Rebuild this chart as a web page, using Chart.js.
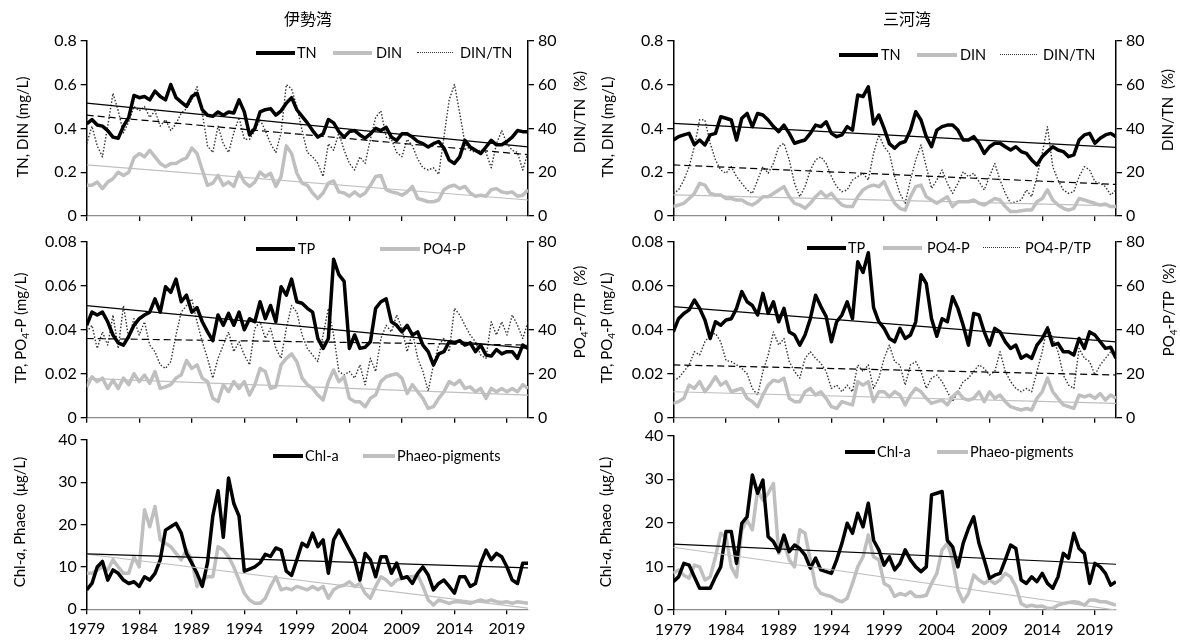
<!DOCTYPE html>
<html><head><meta charset="utf-8">
<script src="https://cdn.jsdelivr.net/npm/chart.js@4.4.1/dist/chart.umd.min.js"></script>
<style>
html,body{margin:0;padding:0;background:#fff;}
#root{position:relative;width:1180px;height:644px;overflow:hidden;font-family:Lato,"Open Sans",sans-serif;color:#000;}
canvas{position:absolute;}
.ttl{position:absolute;font-family:"Noto Sans CJK JP",sans-serif;font-size:16px;transform:translate(-50%,-50%);white-space:nowrap;}
.ax{position:absolute;font-size:15px;white-space:nowrap;transform:translate(-50%,-50%) rotate(-90deg);line-height:1;}
.ax sub{font-size:10px;vertical-align:-3px;line-height:0;}
.lg{position:absolute;font-size:14.5px;white-space:nowrap;transform:translateY(-50%);line-height:1;}
.sw{position:absolute;height:0;}
</style></head>
<body><div id="root"></div>
<script>
// ---- categories / ticks ----
const halfYears = Array.from({length: 85}, (_, i) => 1979 + i * 0.5);
const trendYears = [1979, 2021];
const yearTicks = [1979, 1984, 1989, 1994, 1999, 2004, 2009, 2014, 2019];
const tnTicks = [0, 0.2, 0.4, 0.6, 0.8];
const tpTicks = [0, 0.02, 0.04, 0.06, 0.08];
const pctTicks = [0, 20, 40, 60, 80];
const chlTicks = [0, 10, 20, 30, 40];

// ---- 伊勢湾 ----
const iseTN = [0.42,0.44,0.415,0.41,0.39,0.36,0.355,0.41,0.45,0.55,0.54,0.545,0.53,0.57,0.545,0.53,0.60,0.54,0.52,0.50,
0.545,0.56,0.485,0.46,0.455,0.475,0.46,0.475,0.47,0.53,0.475,0.37,0.40,0.475,0.485,0.49,0.46,0.48,0.515,0.54,
0.485,0.455,0.425,0.39,0.36,0.375,0.44,0.425,0.385,0.36,0.385,0.39,0.37,0.355,0.375,0.40,0.39,0.405,0.36,0.345,
0.375,0.375,0.36,0.34,0.33,0.315,0.33,0.34,0.31,0.255,0.24,0.27,0.345,0.315,0.30,0.285,0.315,0.345,0.325,0.325,
0.34,0.36,0.39,0.385,0.385];
const iseDIN = [0.14,0.14,0.155,0.125,0.155,0.17,0.20,0.185,0.20,0.265,0.285,0.27,0.30,0.27,0.24,0.225,0.24,0.24,0.255,0.265,
0.31,0.285,0.21,0.14,0.15,0.185,0.14,0.155,0.135,0.20,0.155,0.135,0.155,0.20,0.18,0.195,0.135,0.18,0.32,0.285,
0.195,0.15,0.14,0.105,0.08,0.105,0.15,0.16,0.11,0.105,0.09,0.11,0.09,0.105,0.14,0.18,0.185,0.12,0.11,0.105,
0.095,0.11,0.135,0.08,0.073,0.065,0.065,0.073,0.12,0.135,0.14,0.125,0.135,0.105,0.09,0.095,0.09,0.12,0.125,0.11,
0.105,0.11,0.09,0.095,0.12];
const iseDINTN = [33,41,32,27,41,56,48,38,43,50,48,50,45,48,41,44,39,42,47,49,
53,59,47,32,29,41,33,29,38,45,35,35,39,44,39,33,29,38,60,58,
50,39,29,27,24,18,33,30,38,30,24,21,27,24,35,45,48,36,35,29,
27,35,32,26,22,21,22,19,36,53,60,47,33,30,29,30,29,22,33,39,
33,30,29,21,29];
const iseTP = [0.042,0.048,0.0467,0.048,0.0436,0.0376,0.034,0.033,0.037,0.042,0.045,0.0467,0.048,0.054,0.048,0.0595,0.057,0.063,0.0527,0.0557,
0.048,0.050,0.0436,0.039,0.035,0.0467,0.042,0.0474,0.042,0.048,0.040,0.045,0.0436,0.0527,0.045,0.051,0.0436,0.0595,0.0557,0.063,
0.0527,0.052,0.0497,0.048,0.036,0.0315,0.036,0.072,0.065,0.062,0.0315,0.0376,0.0315,0.032,0.0345,0.0497,0.0527,0.054,0.0436,0.042,
0.039,0.042,0.0376,0.039,0.033,0.030,0.024,0.029,0.030,0.0345,0.034,0.035,0.033,0.034,0.030,0.033,0.0285,0.028,0.031,0.029,
0.030,0.030,0.027,0.033,0.0315];
const isePO4 = [0.014,0.0186,0.0164,0.018,0.0133,0.017,0.0133,0.018,0.015,0.020,0.0164,0.0194,0.0156,0.021,0.0133,0.014,0.015,0.018,0.0194,0.026,
0.0224,0.024,0.018,0.0164,0.0088,0.0073,0.015,0.0118,0.0164,0.0133,0.0164,0.0103,0.015,0.0224,0.021,0.0133,0.014,0.024,0.027,0.029,
0.0254,0.018,0.015,0.0133,0.0103,0.008,0.0164,0.0217,0.0164,0.0186,0.0088,0.0073,0.0073,0.005,0.0088,0.0103,0.0164,0.0186,0.0194,0.020,
0.018,0.011,0.015,0.0118,0.0088,0.0042,0.005,0.0088,0.0118,0.0164,0.015,0.017,0.0133,0.014,0.0118,0.0133,0.0088,0.0133,0.0118,0.0133,
0.0118,0.0133,0.0118,0.015,0.0133];
const isePO4TP = [39,42,31.5,39,33,46.7,31.5,51,36,45,37.6,43.6,33,30,24,22.4,25.5,37.6,48,51,
54,43.6,34.5,27,18,27,33,39,30,34.5,28.5,24,40.6,43.6,36,40.6,31.5,27,40.6,51,
48,37.6,31.5,28.5,25.5,37.6,49.7,37.6,21,19.4,21,18,24,15,27,21,36,42,39,46.7,
40.6,30,39,27,21,12,24,33,36,30,49.7,46.7,42,37.6,34.5,28.5,27,43.6,37.6,43.6,
37.6,46.7,42,36,43.6];
const iseChl = [4.6,6.1,10,11.3,6.9,9.3,8.5,6.9,6.1,6.5,5.4,7.7,6.9,8.5,11.7,18.7,19.5,20.3,18,13.2,
10.9,8.5,5.4,11,22,28,17,31,25,22,9,9.5,10,11,13,12.5,14.5,14,9,8,
11.7,15.6,14.8,18,14.8,16.4,8.5,16.4,18.7,16.4,14,11.7,6.9,13.2,11.7,7.7,12.4,12.4,8.5,10.9,
7.3,7.7,6.1,8.5,10,8.1,4.6,6.1,6.9,5.4,3.8,7.7,7.7,5.4,6.1,10.9,14,11.7,13.2,12.4,
10,6.9,6.1,10.9,10.9];
const isePhaeo = [8.5,8.5,9.3,10,9.3,11.7,10,8.5,8.5,12.4,10,23.5,19.5,24.3,16.4,15.6,14.8,13.2,11.7,14,
11.7,5.4,6.9,7.7,7.7,14.8,14,12.4,10,6.9,3.8,2.2,1.4,1.4,2.6,5.4,7.7,4.6,5,4.6,
5.4,5,4.6,5.4,4.6,5.4,2.6,4.6,5.4,5.7,6.5,5.4,6.1,3.8,2.6,5.4,7.7,6.9,5.7,6.9,
7.3,7.7,7.7,8.1,5.4,2.2,1,2.2,1.8,1.4,1.8,1.8,1.6,1.4,1.8,2.2,1.8,2.2,1.8,1.6,
1.8,1.4,1.8,1.6,1.4];
const iseTNTrend = [0.515, 0.315];
const iseDINTrend = [0.233, 0.073];
const iseDINTNTrend = [46, 28];
const iseTPTrend = [0.0509, 0.0315];
const isePO4Trend = [0.0179, 0.0103];
const isePO4TPTrend = [36, 33];
const iseChlTrend = [13.1, 9.8];
const isePhaeoTrend = [13, 0.3];

// ---- 三河湾 ----
const mikTN = [0.347,0.362,0.37,0.377,0.325,0.347,0.324,0.37,0.377,0.453,0.446,0.438,0.347,0.446,0.468,0.408,0.468,0.461,0.438,0.408,
0.385,0.415,0.377,0.332,0.34,0.347,0.377,0.415,0.408,0.43,0.377,0.362,0.37,0.408,0.392,0.552,0.545,0.59,0.42,0.461,
0.40,0.33,0.309,0.332,0.34,0.392,0.476,0.438,0.362,0.316,0.392,0.408,0.415,0.415,0.392,0.347,0.347,0.362,0.332,0.286,
0.316,0.332,0.332,0.316,0.301,0.316,0.294,0.286,0.256,0.233,0.271,0.294,0.316,0.301,0.294,0.271,0.279,0.347,0.37,0.377,
0.332,0.355,0.37,0.377,0.362];
const mikDIN = [0.043,0.05,0.058,0.08,0.103,0.149,0.141,0.103,0.096,0.096,0.08,0.08,0.073,0.073,0.058,0.05,0.065,0.088,0.088,0.103,
0.119,0.134,0.088,0.058,0.05,0.035,0.058,0.088,0.111,0.088,0.103,0.073,0.05,0.043,0.043,0.088,0.119,0.134,0.141,0.134,
0.157,0.103,0.058,0.035,0.027,0.088,0.134,0.141,0.088,0.073,0.058,0.073,0.088,0.043,0.065,0.065,0.065,0.073,0.058,0.05,
0.065,0.08,0.073,0.043,0.02,0.02,0.024,0.027,0.027,0.065,0.08,0.119,0.073,0.05,0.035,0.027,0.035,0.08,0.073,0.065,
0.058,0.05,0.055,0.043,0.043];
const mikDINTN = [10.3,11.9,16.4,22.5,31.6,44,43.8,33.2,25.6,21,19.5,22.5,18,14.9,11.9,10.3,16.4,22.5,19.5,24,
31.6,33.2,25.6,14.9,8.8,13.4,21,25.6,27,24,18,13.4,11.1,11.9,16.4,18,19.5,16.4,28.6,37,
31.6,28.6,18,10.3,5.8,16.4,25.6,32.4,22.5,12.6,16.4,21,14.9,10.3,14.9,20.2,18,19.5,15.7,11.9,
18,24,16.4,10.3,5.8,6.5,7.3,11.9,8.8,18,28.6,40.8,22.5,16.4,11.9,10.3,11.1,18,22.5,21,
15.7,14.9,13.4,9.6,11.9];
const mikTP = [0.039,0.045,0.0474,0.049,0.0535,0.0497,0.0444,0.036,0.0436,0.042,0.0444,0.045,0.0497,0.0573,0.0527,0.051,0.0467,0.0565,0.0474,0.0527,
0.0436,0.0497,0.039,0.0376,0.033,0.0376,0.045,0.0557,0.0505,0.046,0.0345,0.0436,0.0467,0.0527,0.045,0.0709,0.066,0.075,0.050,0.0436,
0.0406,0.036,0.0345,0.0406,0.036,0.0376,0.0436,0.065,0.061,0.045,0.037,0.045,0.0436,0.055,0.0497,0.042,0.033,0.0474,0.0467,0.039,
0.033,0.0406,0.039,0.0345,0.0315,0.033,0.027,0.0285,0.027,0.033,0.036,0.0406,0.033,0.0338,0.030,0.030,0.0285,0.036,0.0315,0.039,
0.0376,0.0345,0.0315,0.032,0.027];
const mikPO4 = [0.0065,0.0073,0.0088,0.0148,0.0133,0.0164,0.0118,0.0148,0.0186,0.0148,0.0164,0.0118,0.0126,0.0133,0.0088,0.0073,0.005,0.0103,0.0148,0.017,
0.0164,0.018,0.0088,0.0073,0.0073,0.0118,0.0133,0.0103,0.0118,0.0088,0.005,0.0042,0.0073,0.0065,0.0058,0.0164,0.0148,0.0164,0.0073,0.0118,
0.0118,0.0095,0.0118,0.0103,0.0058,0.0103,0.0133,0.0118,0.0088,0.0065,0.0073,0.008,0.0058,0.0095,0.0118,0.0088,0.008,0.0088,0.0118,0.0073,
0.0118,0.0088,0.0103,0.0073,0.005,0.0042,0.0035,0.0042,0.0035,0.0088,0.0118,0.018,0.0118,0.0088,0.0058,0.005,0.0042,0.0103,0.0095,0.0103,
0.0088,0.011,0.008,0.0103,0.0088];
const mikPO4TP = [17,18,21,24,30,28.5,34.5,37.6,38.3,34.5,26,25.5,24,22.4,20,13.3,10.3,21,28.5,39,
33,36,25.5,21,18,27,30,27,24.7,21,13.3,14.8,11.8,14.8,11.8,24,21,24,13.3,18,
27,33,25.5,24,14.8,24,25.5,21,13.3,18,19.4,16.4,11.8,7.3,11.8,16.4,18,21,24,22.4,
19.4,21,30,21,16.4,13.3,11.8,13.3,11.8,21,30,42,36,30,19.4,14.8,13.3,31.5,27,25.5,
19.4,24,27,30,27];
const mikChl = [6.5,7.6,10.7,10.3,7.6,5,5,5,7.6,9.9,18,18,10.7,19.9,21.4,31,26.8,29.8,16.8,15.7,
13.4,17.2,13.4,14.9,14.1,12.6,9.6,11.9,9.2,8.8,8.4,11.5,15.3,19.9,17.6,22.2,19.1,24.5,16,13.8,
10.3,12.2,9.2,10.7,13.8,11.5,9.9,8.8,9.9,26.4,26.8,27.2,16,14.5,9.9,15.3,18.7,21.4,15.3,11.5,
7.3,8,8.4,11.5,14.9,14.1,6.9,6.1,7.6,6.5,8.4,6.1,5,7.6,13,11.9,17.6,14.1,13,6.1,
10.7,9.9,8.4,5.7,6.5];
const mikPhaeo = [8.4,9.2,8,7.3,10.3,9.9,6.9,7.6,12.2,17.6,16.8,9.9,7.6,18.4,20.6,18.4,27.5,25.2,26.8,29,
13,15.3,11.5,9.9,18.4,17.6,11.5,5.4,3.8,3.4,3.1,2.3,1.9,2.7,6.1,9.9,12.2,17.2,12.2,11.5,
6.1,5.4,3.1,3.8,3.4,4.2,3.1,3.1,3.4,6.1,8.4,13.8,15.3,11.5,4.6,1.9,3.8,8,6.9,6.1,
6.9,6.1,6.9,8.4,7.6,5.4,1.5,0.8,1.1,0.8,0.9,0.4,0.4,1.1,1.5,1.7,1.9,1.7,1.1,2.3,
2.3,1.9,1.9,1.5,1.1];
const mikTNTrend = [0.423, 0.313];
const mikDINTrend = [0.096, 0.046];
const mikDINTNTrend = [23.3, 14.4];
const mikTPTrend = [0.0505, 0.0345];
const mikPO4Trend = [0.0118, 0.0065];
const mikPO4TPTrend = [24, 19.4];
const mikChlTrend = [15.1, 10.5];
const mikPhaeoTrend = [14.4, 0];

// ---- drawing ----
const root = document.getElementById('root');
const BLACK = '#000000', GRAY = '#bfbfbf', DOT = '#333333';

function series(arr, color, width, axis, order, dash) {
  return { data: halfYears.map((x, i) => ({x: x, y: arr[i]})), borderColor: color, borderWidth: width,
    yAxisID: axis, order: order, borderDash: dash || [], pointRadius: 0, tension: 0, fill: false,
    borderJoinStyle: 'round', borderCapStyle: 'butt' };
}
function trend(arr, color, axis, dash) {
  return { data: trendYears.map((x, i) => ({x: x, y: arr[i]})), borderColor: color, borderWidth: 1.2,
    yAxisID: axis, order: 0, borderDash: dash || [], pointRadius: 0, tension: 0, fill: false };
}

function panel(p) {
  const cv = document.createElement('canvas');
  cv.width = p.box.w; cv.height = p.box.h;
  cv.style.left = p.box.x + 'px'; cv.style.top = p.box.y + 'px';
  root.appendChild(cv);
  const leftW = p.area.l - p.box.x;
  const rightW = p.box.x + p.box.w - p.area.r;
  const topPad = p.area.t - p.box.y;
  const xH = p.box.y + p.box.h - p.area.b;
  const tickFont = {family: 'Lato', size: 16};
  const yScale = (pos, ticks, w) => ({
    type: 'linear', position: pos, min: ticks[0], max: ticks[ticks.length - 1],
    afterBuildTicks: s => { s.ticks = ticks.map(v => ({value: v})); },
    afterFit: s => { s.width = w; },
    grid: {display: true, drawOnChartArea: false, drawTicks: true, tickLength: 6, color: '#000', lineWidth: 1.3},
    border: {display: true, color: '#000', width: 1.5},
    ticks: {font: tickFont, color: '#000', padding: 4, callback: v => String(v)}
  });
  const scales = {
    x: { type: 'linear', min: 1979, max: 2021,
      afterBuildTicks: s => { s.ticks = yearTicks.map(v => ({value: v})); },
      afterFit: s => { s.height = xH; },
      grid: {display: true, drawOnChartArea: false, drawTicks: true, tickLength: 5, color: '#000', lineWidth: 1.3},
      border: {display: true, color: '#8c8c8c', width: 1.3},
      ticks: {display: p.xLabels, font: tickFont, color: '#000', padding: 5, maxRotation: 0, autoSkip: false, callback: v => String(v)}
    },
    y: yScale('left', p.yTicks, leftW)
  };
  if (p.y1Ticks) scales.y1 = yScale('right', p.y1Ticks, rightW);
  new Chart(cv, {
    type: 'line',
    data: {datasets: p.datasets},
    options: {
      responsive: false, animation: false, devicePixelRatio: 1, events: [],
      layout: {padding: {top: topPad, bottom: 0, left: 0, right: p.y1Ticks ? 0 : rightW}},
      plugins: {legend: {display: false}, tooltip: {enabled: false}},
      scales: scales
    }
  });
}

const L = {x: 0, w: 600, l: 86.7, r: 528};
const R = {x: 590, w: 590, l: 673.3, r: 1116};

function box(col, y, h) { return {x: col.x, w: col.w, y: y, h: h}; }
function area(col, t, b) { return {l: col.l, r: col.r, t: t, b: b}; }

// Row 1: TN / DIN
panel({box: box(L, 0, 236), area: area(L, 40.7, 216), yTicks: tnTicks, y1Ticks: pctTicks, xLabels: false,
  datasets: [series(iseTN, BLACK, 3.5, 'y', 2), series(iseDIN, GRAY, 3.5, 'y', 3), series(iseDINTN, DOT, 1.4, 'y1', 4, [1.5, 1.8]),
    trend(iseTNTrend, BLACK, 'y'), trend(iseDINTrend, GRAY, 'y'), trend(iseDINTNTrend, BLACK, 'y1', [7, 4])]});
panel({box: box(R, 0, 236), area: area(R, 40.7, 216), yTicks: tnTicks, y1Ticks: pctTicks, xLabels: false,
  datasets: [series(mikTN, BLACK, 3.5, 'y', 2), series(mikDIN, GRAY, 3.5, 'y', 3), series(mikDINTN, DOT, 1.4, 'y1', 4, [1.5, 1.8]),
    trend(mikTNTrend, BLACK, 'y'), trend(mikDINTrend, GRAY, 'y'), trend(mikDINTNTrend, BLACK, 'y1', [7, 4])]});
// Row 2: TP / PO4-P
panel({box: box(L, 222, 214), area: area(L, 241.7, 417.7), yTicks: tpTicks, y1Ticks: pctTicks, xLabels: false,
  datasets: [series(iseTP, BLACK, 3.5, 'y', 2), series(isePO4, GRAY, 3.5, 'y', 3), series(isePO4TP, DOT, 1.4, 'y1', 4, [1.5, 1.8]),
    trend(iseTPTrend, BLACK, 'y'), trend(isePO4Trend, GRAY, 'y'), trend(isePO4TPTrend, BLACK, 'y1', [7, 4])]});
panel({box: box(R, 222, 214), area: area(R, 241.7, 417.7), yTicks: tpTicks, y1Ticks: pctTicks, xLabels: false,
  datasets: [series(mikTP, BLACK, 3.5, 'y', 2), series(mikPO4, GRAY, 3.5, 'y', 3), series(mikPO4TP, DOT, 1.4, 'y1', 4, [1.5, 1.8]),
    trend(mikTPTrend, BLACK, 'y'), trend(mikPO4Trend, GRAY, 'y'), trend(mikPO4TPTrend, BLACK, 'y1', [7, 4])]});
// Row 3: Chl-a / Phaeo
panel({box: box(L, 420, 224), area: area(L, 440, 609.3), yTicks: chlTicks, y1Ticks: null, xLabels: true,
  datasets: [series(iseChl, BLACK, 3.5, 'y', 2), series(isePhaeo, GRAY, 3.5, 'y', 3),
    trend(iseChlTrend, BLACK, 'y'), trend(isePhaeoTrend, GRAY, 'y')]});
panel({box: box(R, 420, 224), area: area(R, 435.7, 610), yTicks: chlTicks, y1Ticks: null, xLabels: true,
  datasets: [series(mikChl, BLACK, 3.5, 'y', 2), series(mikPhaeo, GRAY, 3.5, 'y', 3),
    trend(mikChlTrend, BLACK, 'y'), trend(mikPhaeoTrend, GRAY, 'y')]});

// ---- text overlays ----
function addText(cls, html, x, y) {
  const d = document.createElement('div');
  d.className = cls; d.innerHTML = html;
  d.style.left = x + 'px'; d.style.top = y + 'px';
  root.appendChild(d);
}
function addSwatch(x1, x2, y, kind) {
  const d = document.createElement('div');
  d.className = 'sw';
  d.style.left = x1 + 'px'; d.style.width = (x2 - x1) + 'px';
  if (kind === 'black') { d.style.borderTop = '4px solid #000'; d.style.top = (y - 2) + 'px'; }
  else if (kind === 'gray') { d.style.borderTop = '4px solid ' + GRAY; d.style.top = (y - 2) + 'px'; }
  else { d.style.borderTop = '1.5px dotted #333'; d.style.top = (y - 0.75) + 'px'; }
  root.appendChild(d);
}

addText('ttl', '伊勢湾', 308, 18);
addText('ttl', '三河湾', 907, 18);

addText('ax', 'TN, DIN (mg/L)', 22, 127);
addText('ax', 'TP, PO<sub>4</sub>-P (mg/L)', 20, 328);
addText('ax', 'Chl-<i>a</i>, Phaeo&nbsp; (μg/L)', 19, 522);
addText('ax', 'DIN/TN&nbsp; (%)', 579, 112);
addText('ax', 'PO<sub>4</sub>-P/TP&nbsp; (%)', 579, 312);
addText('ax', 'TN, DIN (mg/L)', 607, 127);
addText('ax', 'TP, PO<sub>4</sub>-P (mg/L)', 606, 328);
addText('ax', 'Chl-<i>a</i>, Phaeo&nbsp; (μg/L)', 605, 522);
addText('ax', 'DIN/TN&nbsp; (%)', 1167, 110);
addText('ax', 'PO<sub>4</sub>-P/TP&nbsp; (%)', 1168, 310);

const legends = [
  {y: 53, items: [[256, 295, 'black', 297, 'TN'], [333, 372, 'gray', 376, 'DIN'], [417, 453, 'dot', 460, 'DIN/TN']]},
  {y: 55, items: [[839, 878, 'black', 881, 'TN'], [917, 957, 'gray', 960, 'DIN'], [1000, 1037, 'dot', 1043, 'DIN/TN']]},
  {y: 249, items: [[256, 295, 'black', 298, 'TP'], [380, 420, 'gray', 423, 'PO4-P']]},
  {y: 248, items: [[807, 846, 'black', 848, 'TP'], [883, 922, 'gray', 927, 'PO4-P'], [983, 1020, 'dot', 1025, 'PO4-P/TP']]},
  {y: 456, items: [[273, 303, 'black', 305, 'Chl-a'], [363, 395, 'gray', 397, 'Phaeo-pigments']]},
  {y: 452, items: [[845, 875, 'black', 877, 'Chl-a'], [937, 968, 'gray', 970, 'Phaeo-pigments']]}
];
legends.forEach(g => g.items.forEach(it => {
  addSwatch(it[0], it[1], g.y, it[2]);
  addText('lg', it[4], it[3], g.y);
}));
</script>
</body></html>
